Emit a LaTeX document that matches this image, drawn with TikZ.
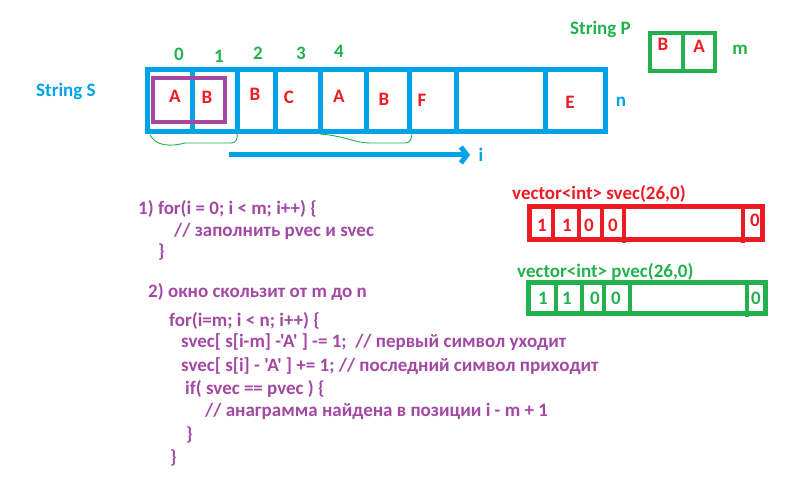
\documentclass[tikz,border=0pt]{standalone}
\usepackage{fontspec}
\setmainfont{Carlito}[Ligatures=TeXOff]
\usetikzlibrary{arrows.meta}
\definecolor{pblue}{RGB}{0,162,232}
\definecolor{pred}{RGB}{237,28,36}
\definecolor{pgreen}{RGB}{34,177,76}
\definecolor{ppurple}{RGB}{163,73,164}

\begin{document}
\begin{tikzpicture}[x=1pt,y=-1pt,>=Latex,
  txt/.style={inner sep=0pt,anchor=base,font=\fontsize{19}{22}\selectfont\bfseries},
  chr/.style={txt,text=pred},
  idx/.style={txt,text=pgreen},
  code/.style={txt,anchor=base west,text=ppurple}]
\useasboundingbox (0,0) rectangle (803,502);
% string S
\draw[pblue,line width=5pt] (147,70) rectangle (605,132);
\draw[pblue,line width=5pt] (192,70)--(192,132) (237,70)--(237,132) (275,70)--(275,132) (320,70)--(320,132)
  (366,70)--(366,132) (409,70)--(409,132) (456,70)--(456,132) (545,70)--(545,132);
\draw[ppurple,line width=4pt] (153,78) rectangle (225,122);
\node[txt,anchor=base west,text=pblue] (lblS) at (36,97) {String S};
\node[txt,text=pblue] (n) at (621,107) {n};
\node[chr] (s0) at (175,103) {A};
\node[chr] (s1) at (207,104) {B};
\node[chr] (s2) at (255,101) {B};
\node[chr] (s3) at (289,104) {C};
\node[chr] (s4) at (339,103) {A};
\node[chr] (s5) at (384,106) {B};
\node[chr] (s6) at (422,107) {F};
\node[chr] (s9) at (570,109) {E};
\node[idx] (i0) at (179,61) {0};
\node[idx] (i1) at (219,63) {1};
\node[idx] (i2) at (258,60) {2};
\node[idx] (i3) at (301,60) {3};
\node[idx] (i4) at (339,58) {4};
% windows
\draw[pgreen,line width=0.9pt] (150,135) .. controls (156,146) and (170,147) .. (185,143) -- (231,143) .. controls (236,143) and (238,139) .. (237,133);
\draw[pgreen,line width=0.9pt] (320,134) .. controls (345,136) and (355,143) .. (370,143) -- (405,143) .. controls (410,143) and (412,139) .. (412,133);
\coordinate (ia) at (229,155);
\coordinate (ib) at (470,155);
\draw[pblue,line width=5pt,-{Straight Barb[length=6pt,width=16pt]}] (ia) -- (ib);
\node[txt,text=pblue] (i) at (481,162) {i};
% string P
\draw[pgreen,line width=4pt] (650,33) rectangle (715,71) (683,33)--(683,71);
\node[txt,anchor=base west,text=pgreen] (lblP) at (570,35) {String P};
\node[chr] (p0) at (663,51) {B};
\node[chr] (p1) at (699,53) {A};
\node[idx] (m) at (740,55) {m};
% svec
\node[txt,anchor=base west,text=pred] (lblsv) at (512,200) {vector<int> svec(26,0)};
\draw[pred,line width=5pt] (529,207) rectangle (762,240);
\draw[pred,line width=4pt] (553,207)--(553,240) (579,207)--(579,240) (602,207)--(602,240) (624,207)--(624,243) (743,207)--(743,243);
\node[chr] (sv0) at (542,232) {1};
\node[chr] (sv1) at (567,232) {1};
\node[chr] (sv2) at (589,232) {0};
\node[chr] (sv3) at (613,232) {0};
\node[chr] (sv25) at (755,227) {0};
% pvec
\node[txt,anchor=base west,text=pgreen] (lblpv) at (517,278) {vector<int> pvec(26,0)};
\draw[pgreen,line width=5pt] (528,283) rectangle (765,314);
\draw[pgreen,line width=4pt] (556,283)--(556,314) (582,283)--(582,314) (604,283)--(604,314) (630,283)--(630,314) (747,283)--(747,317);
\node[idx] (pv0) at (543,305) {1};
\node[idx] (pv1) at (567,305) {1};
\node[idx] (pv2) at (595,305) {0};
\node[idx] (pv3) at (616,305) {0};
\node[idx] (pv25) at (756,305) {0};
% code
\node[code] (c1) at (138,215) {1) for(i = 0; i < m; i++) \{};
\node[code] (c2) at (174,237) {// заполнить pvec и svec};
\node[code] (c3) at (158,258) {\}};
\node[code] (c4) at (148,298) {2) окно скользит от m до n};
\node[code] (c5) at (169,327) {for(i=m; i < n; i++) \{};
\node[code] (c6) at (181,348) {svec[ s[i-m] -'A' ] -= 1;\ \ // первый символ уходит};
\node[code] (c7) at (181,372) {svec[ s[i] - 'A' ] += 1; // последний символ приходит};
\node[code] (c8) at (185,395) {if( svec == pvec ) \{};
\node[code] (c9) at (205,417) {// анаграмма найдена в позиции i - m + 1};
\node[code] (c10) at (186,440) {\}};
\node[code] (c11) at (170,463) {\}};
\end{tikzpicture}
\end{document}
